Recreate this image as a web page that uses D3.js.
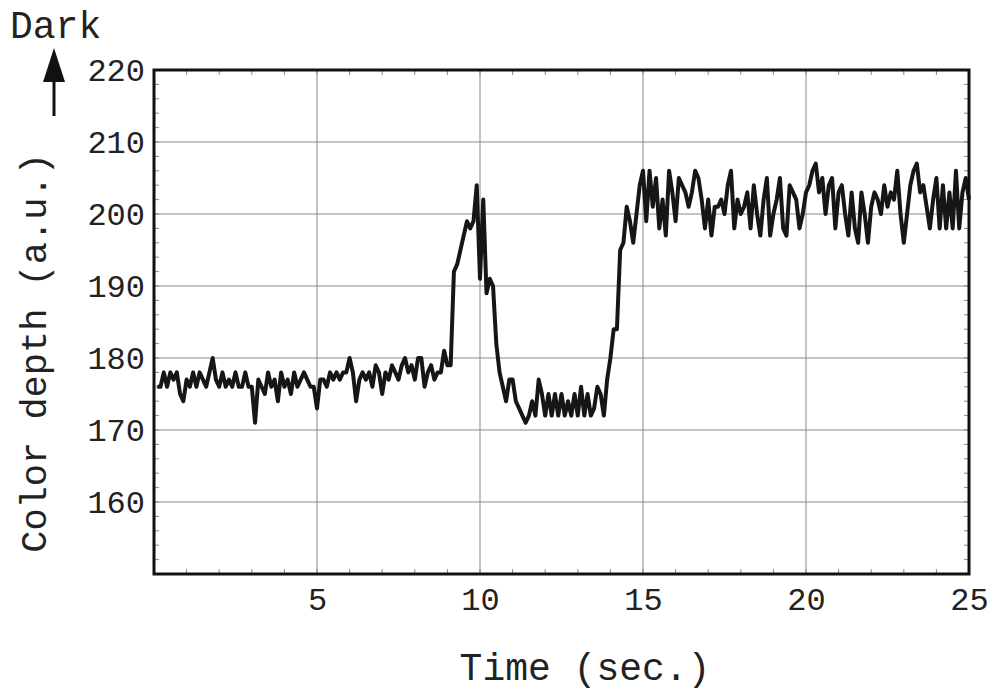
<!DOCTYPE html>
<html>
<head>
<meta charset="utf-8">
<script src="https://cdn.jsdelivr.net/npm/d3@7"></script>
<style>
  body { margin: 0; background: #fff; }
  text { font-family: "Liberation Mono", "Courier New", monospace; fill: #222; }
</style>
</head>
<body>
<div id="chart"></div>
<script>
// sampling step (sec) of the recorded trace
const sampleStep = 0.1;

// color depth readings, one row per second (t = 0.1 ... 25.0)
const depthValues = [
  176, 176, 178, 176, 178, 177, 178, 175, 174, 177,
  176, 178, 176, 178, 177, 176, 178, 180, 177, 176,
  178, 176, 177, 176, 178, 176, 176, 178, 176, 176,
  171, 177, 176, 175, 178, 176, 177, 174, 178, 176,
  177, 175, 178, 176, 177, 178, 177, 176, 176, 173,
  177, 177, 176, 178, 177, 178, 177, 178, 178, 180,
  178, 174, 177, 178, 177, 178, 176, 179, 178, 175,
  178, 177, 179, 178, 177, 179, 180, 178, 179, 177,
  180, 180, 176, 178, 179, 177, 178, 178, 181, 179,
  179, 192, 193, 195, 197, 199, 198, 199, 204, 191,
  202, 189, 191, 190, 182, 178, 176, 174, 177, 177,
  174, 173, 172, 171, 172, 174, 172, 177, 175, 172,
  175, 172, 175, 172, 175, 172, 174, 172, 175, 172,
  176, 172, 175, 172, 173, 176, 175, 172, 177, 180,
  184, 184, 195, 196, 201, 199, 196, 200, 204, 206,
  199, 206, 201, 205, 198, 202, 197, 206, 203, 199,
  205, 204, 203, 201, 203, 206, 205, 202, 198, 202,
  197, 201, 201, 202, 200, 204, 206, 198, 202, 200,
  201, 203, 198, 204, 200, 197, 202, 205, 197, 200,
  202, 205, 198, 197, 204, 203, 202, 198, 200, 203,
  204, 206, 207, 203, 205, 200, 204, 205, 198, 203,
  204, 200, 197, 203, 198, 196, 203, 200, 196, 201,
  203, 202, 200, 204, 201, 203, 202, 206, 200, 196,
  200, 204, 206, 207, 203, 204, 201, 198, 202, 205,
  198, 204, 198, 203, 198, 206, 198, 203, 205, 202
];

const xTicks = [5, 10, 15, 20, 25];
const yTicks = [160, 170, 180, 190, 200, 210, 220];
const xMinor = d3.range(1, 25, 1);
const yMinor = d3.range(152, 220, 2);

const margin = {top: 70, right: 31, bottom: 122, left: 154};
const size = {width: 1000, height: 696};
const width = size.width - margin.left - margin.right;
const height = size.height - margin.top - margin.bottom;

const data = depthValues.map((v, i) => ({t: +((i + 1) * sampleStep).toFixed(1), v: v}));

const svg = d3.select("#chart").append("svg")
    .attr("width", size.width)
    .attr("height", size.height);

const g = svg.append("g")
    .attr("transform", "translate(" + margin.left + "," + margin.top + ")");

const xScale = d3.scaleLinear().domain([0, 25]).range([0, width]);
const yScale = d3.scaleLinear().domain([150, 220]).range([height, 0]);

// grid lines
g.append("g").selectAll("line.vgrid")
    .data(xTicks.filter(d => d < 25))
    .join("line")
    .attr("x1", d => xScale(d)).attr("x2", d => xScale(d))
    .attr("y1", 0).attr("y2", height)
    .attr("stroke", "#8a8a8a").attr("stroke-width", 1);

g.append("g").selectAll("line.hgrid")
    .data(yTicks.filter(d => d < 220))
    .join("line")
    .attr("x1", 0).attr("x2", width)
    .attr("y1", d => yScale(d)).attr("y2", d => yScale(d))
    .attr("stroke", "#8a8a8a").attr("stroke-width", 1);

// small inward ticks on all sides
const minorG = g.append("g").attr("stroke", "#888").attr("stroke-width", 1);
minorG.selectAll("line.xb").data(xMinor).join("line")
    .attr("x1", d => xScale(d)).attr("x2", d => xScale(d))
    .attr("y1", height).attr("y2", height - 5);
minorG.selectAll("line.xt").data(xMinor).join("line")
    .attr("x1", d => xScale(d)).attr("x2", d => xScale(d))
    .attr("y1", 0).attr("y2", 5);
minorG.selectAll("line.yl").data(yMinor).join("line")
    .attr("x1", 0).attr("x2", 5)
    .attr("y1", d => yScale(d)).attr("y2", d => yScale(d));
minorG.selectAll("line.yr").data(yMinor).join("line")
    .attr("x1", width).attr("x2", width - 5)
    .attr("y1", d => yScale(d)).attr("y2", d => yScale(d));

// tick labels
const xAxisG = g.append("g")
    .attr("transform", "translate(0," + height + ")")
    .call(d3.axisBottom(xScale).tickValues(xTicks).tickSize(0).tickPadding(13));
xAxisG.select(".domain").remove();
xAxisG.selectAll("text")
    .style("font-family", "'Liberation Mono', monospace")
    .style("font-size", "32px")
    .attr("fill", "#222");

const yAxisG = g.append("g")
    .call(d3.axisLeft(yScale).tickValues(yTicks).tickSize(0).tickPadding(9));
yAxisG.select(".domain").remove();
yAxisG.selectAll("text")
    .style("font-family", "'Liberation Mono', monospace")
    .style("font-size", "32px")
    .attr("fill", "#222");

// trace
const line = d3.line()
    .x(d => xScale(d.t))
    .y(d => yScale(d.v));

g.append("path")
    .datum(data)
    .attr("fill", "none")
    .attr("stroke", "#161616")
    .attr("stroke-width", 4)
    .attr("stroke-linejoin", "round")
    .attr("d", line);

// frame
g.append("rect")
    .attr("x", 0).attr("y", 0)
    .attr("width", width).attr("height", height)
    .attr("fill", "none")
    .attr("stroke", "#111")
    .attr("stroke-width", 3);

// axis titles
svg.append("text")
    .attr("x", 585)
    .attr("y", 680)
    .attr("text-anchor", "middle")
    .style("font-size", "38px")
    .text("Time (sec.)");

svg.append("text")
    .attr("transform", "translate(46,353) rotate(-90)")
    .attr("text-anchor", "middle")
    .style("font-size", "37px")
    .text("Color depth (a.u.)");

// "Dark" marker with upward arrow
svg.append("text")
    .attr("x", 10)
    .attr("y", 38)
    .style("font-size", "38px")
    .text("Dark");

svg.append("line")
    .attr("x1", 54).attr("x2", 54)
    .attr("y1", 116).attr("y2", 76)
    .attr("stroke", "#111").attr("stroke-width", 3);

svg.append("path")
    .attr("d", "M54,48 L43,82 L65,82 Z")
    .attr("fill", "#111");
</script>
</body>
</html>
